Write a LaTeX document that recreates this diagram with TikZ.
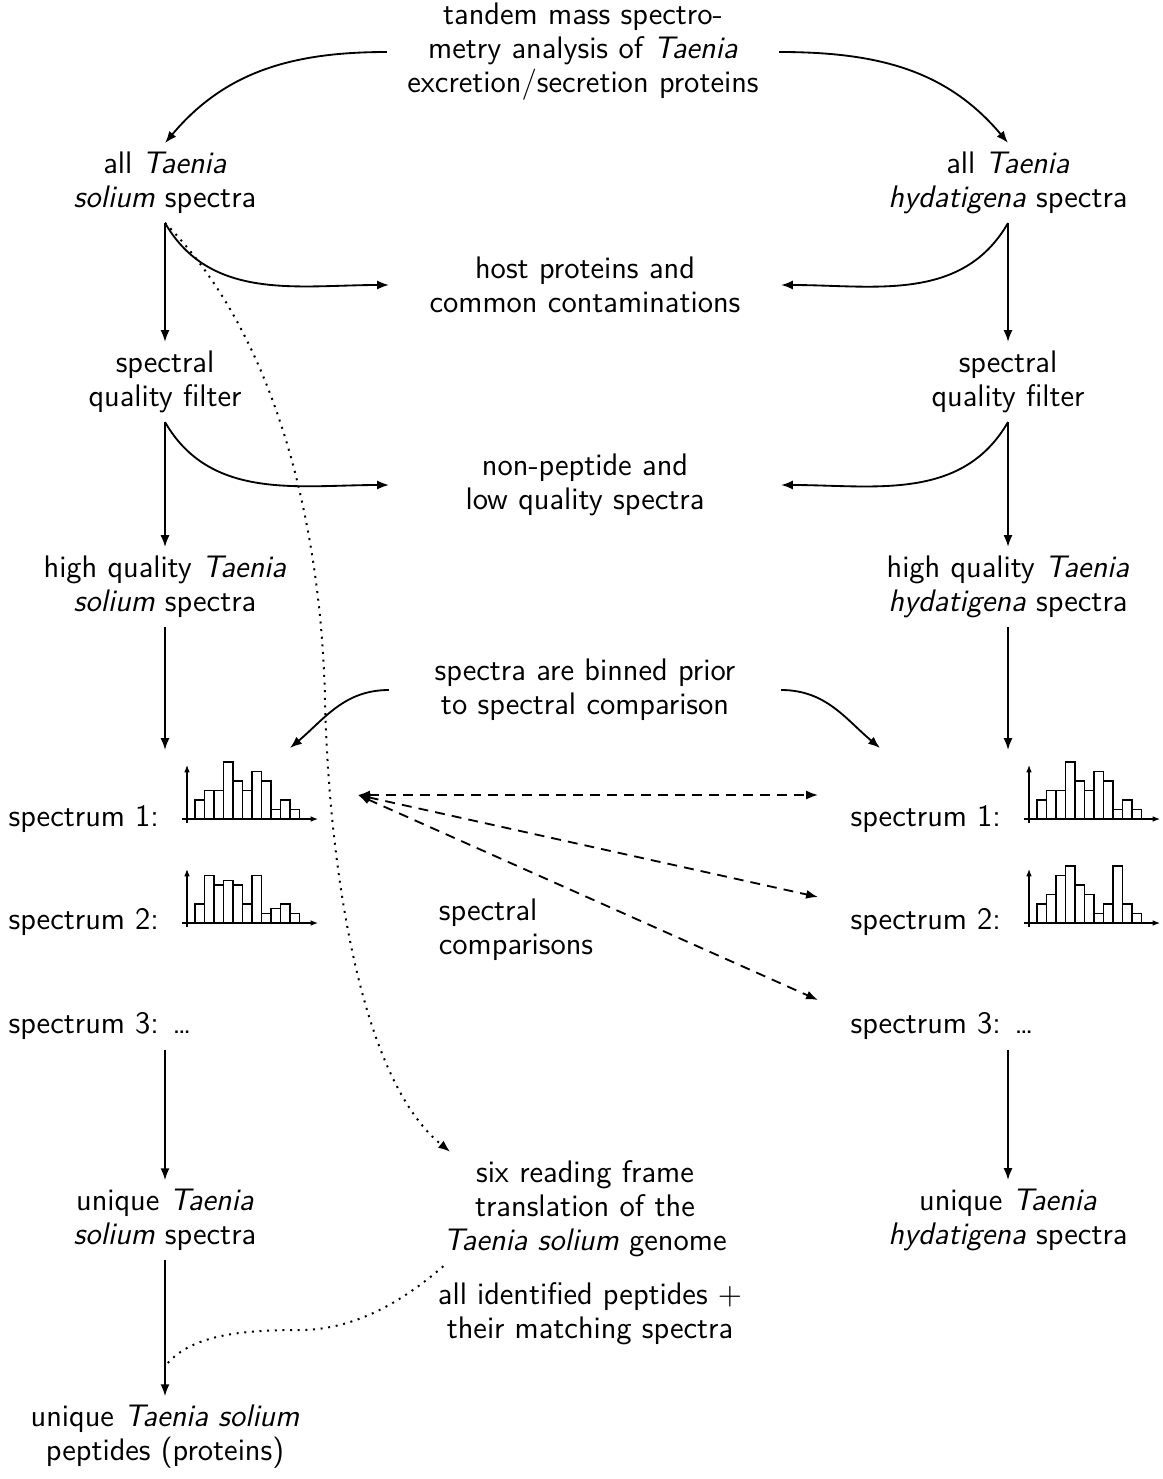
\documentclass[tikz,border=0pt]{standalone}
\usetikzlibrary{arrows.meta,calc}
\newcommand\myhisto[2]{%
 \begin{scope}[shift={(#1)}]
  \draw[thin,-{Latex[length=2.6pt,width=2pt]}] (-5,0) -- (131,0);
  \draw[thin,-{Latex[length=2.6pt,width=2pt]}] (0,-4) -- (0,54);
  \foreach \h [count=\i] in {#2} \draw[thin] ({8+(\i-1)*9.5},0) rectangle ++(9.5,{\h*9.5});
 \end{scope}}
\begin{document}
\begin{tikzpicture}[x=0.353pt,y=0.353pt, font=\fontsize{11}{12}\selectfont\sffamily,
  txt/.style={align=center, inner sep=3pt},
  mid/.style={align=center, text width=132pt, inner sep=3pt},
  lab/.style={anchor=base west, inner sep=0pt},
  arr/.style={line width=0.65pt,-{Latex[length=4.2pt,width=3.2pt]}},
  dsh/.style={line width=0.65pt,dash pattern=on 3.5pt off 2.5pt,{Latex[length=4.2pt,width=3.2pt]}-{Latex[length=4.2pt,width=3.2pt]}},
  dot/.style={line width=0.7pt,dash pattern=on 0.7pt off 2pt}]
\useasboundingbox (0,0) rectangle (1163,-1479);

\node[mid] (top) at (583,-52) {tandem mass spectro-\\metry analysis of \textit{Taenia}\\excretion/secretion proteins};
\node[txt] (l1) at (165,-183) {all \textit{Taenia}\\\textit{solium} spectra};
\node[txt] (r1) at (1008,-183) {all \textit{Taenia}\\\textit{hydatigena} spectra};
\node[mid] (host) at (585,-285) {host proteins and\\common contaminations};
\node[txt] (l2) at (165,-382) {spectral\\quality filter};
\node[txt] (r2) at (1008,-382) {spectral\\quality filter};
\node[mid] (nonpep) at (585,-485) {non-peptide and\\low quality spectra};
\node[txt] (l3) at (165,-587) {high quality \textit{Taenia}\\\textit{solium} spectra};
\node[txt] (r3) at (1008,-587) {high quality \textit{Taenia}\\\textit{hydatigena} spectra};
\node[mid] (binned) at (585,-690) {spectra are binned prior\\to spectral comparison};

\node[lab] (ls1) at (8,-826) {spectrum 1:};
\node[lab] (ls2) at (8,-929) {spectrum 2:};
\node[lab] (ls3) at (8,-1033) {spectrum 3: \dots};
\node[lab] (rs1) at (850,-826) {spectrum 1:};
\node[lab] (rs2) at (850,-929) {spectrum 2:};
\node[lab] (rs3) at (850,-1033) {spectrum 3: \dots};

\coordinate (hl1) at (187,-819);
\coordinate (hl2) at (187,-923);
\coordinate (hr1) at (1029,-819);
\coordinate (hr2) at (1029,-923);
\myhisto{hl1}{2,3,3,6,4,3,5,4,1,2,1}
\myhisto{hl2}{2,5,4,4.5,4,2,5,1,1.5,2,1}
\myhisto{hr1}{2,3,3,6,4,3,5,4,1,2,1}
\myhisto{hr2}{2,3,5,6,4,3,1,2,6,2,1}

\node[align=left] (cmp) at (516,-930) {spectral\\comparisons};
\node[mid] (six) at (585,-1209) {six reading frame\\translation of the\\\textit{Taenia solium} genome};
\node[txt] (u1) at (165,-1220) {unique \textit{Taenia}\\\textit{solium} spectra};
\node[txt] (u2) at (1008,-1220) {unique \textit{Taenia}\\\textit{hydatigena} spectra};
\node[txt] (allid) at (590,-1314) {all identified peptides $+$\\their matching spectra};
\node[txt] (pep) at (165,-1437) {unique \textit{Taenia solium}\\peptides (proteins)};

\coordinate (al) at (165,-750);
\coordinate (ar) at (1008,-750);
\coordinate (bl) at (290,-748);
\coordinate (br) at (880,-748);
\coordinate (dl) at (358,-795);
\coordinate (dr1) at (818,-795);
\coordinate (dr2) at (818,-897);
\coordinate (dr3) at (818,-1000);

\draw[arr] (top.west) to[out=180,in=50] (l1.north);
\draw[arr] (top.east) to[out=0,in=130] (r1.north);
\draw[arr] (l1.south) to[out=-60,in=180] (host.west);
\draw[arr] (r1.south) to[out=-120,in=0] (host.east);
\draw[arr] (l1.south) -- (l2.north);
\draw[arr] (r1.south) -- (r2.north);
\draw[arr] (l2.south) to[out=-60,in=180] (nonpep.west);
\draw[arr] (r2.south) to[out=-120,in=0] (nonpep.east);
\draw[arr] (l2.south) -- (l3.north);
\draw[arr] (r2.south) -- (r3.north);
\draw[arr] (l3.south) -- (al);
\draw[arr] (r3.south) -- (ar);
\draw[arr] (binned.west) to[out=180,in=40] (bl);
\draw[arr] (binned.east) to[out=0,in=140] (br);
\draw[dsh] (dl) -- (dr1);
\draw[dsh] (dl) -- (dr2);
\draw[dsh] (dl) -- (dr3);
\draw[arr] (l1.south |- ls3.south) ++(0,-10) coordinate (s3l) -- (u1.north);
\draw[arr] (r1.south |- rs3.south) ++(0,-10) coordinate (s3r) -- (u2.north);
\draw[arr] (u1.south) -- (pep.north);
\draw[dot,-{Latex[length=4.2pt,width=3.2pt]}] (l1.south) .. controls (290,-350) and (322,-560) .. (325,-700)
   .. controls (328,-840) and (354,-1074) .. (six.157);
\coordinate (dj) at ($(u1.south)!0.78!(pep.north)$);
\draw[dot] (six.202) .. controls (410,-1295) and (360,-1330) .. (300,-1330)
   .. controls (240,-1330) and (190,-1335) .. (dj);
\end{tikzpicture}
\end{document}
